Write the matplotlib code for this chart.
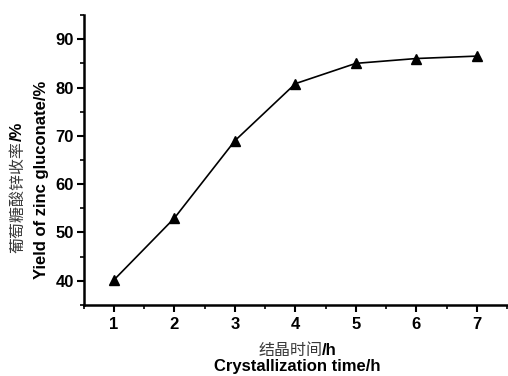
import matplotlib.pyplot as plt
from matplotlib.ticker import MultipleLocator

hours = [1, 2, 3, 4, 5, 6, 7]
yield_pct = [40.2, 53.0, 69.0, 80.8, 85.0, 86.0, 86.5]
xticks = [1, 2, 3, 4, 5, 6, 7]
yticks = [40, 50, 60, 70, 80, 90]

plt.rcParams['font.family'] = ['Liberation Sans', 'DejaVu Sans']
cjk = ['Noto Sans CJK SC', 'DejaVu Sans']

fig = plt.figure(figsize=(5.08, 3.76), dpi=100)
ax = fig.add_axes([0.165, 0.189, 0.833, 0.771])

ax.plot(hours, yield_pct, color='black', lw=1.2, marker='^', ms=7, mfc='black', mec='black')

ax.set_xlim(0.5, 7.5)
ax.set_ylim(35, 95)
ax.set_xticks(xticks)
ax.set_yticks(yticks)
ax.xaxis.set_minor_locator(MultipleLocator(0.5))
ax.yaxis.set_minor_locator(MultipleLocator(5))
ax.tick_params(which='major', direction='out', length=5, width=1.5, labelsize=12, pad=2)
ax.tick_params(axis='x', which='major', pad=4)
ax.tick_params(which='minor', direction='out', length=3, width=1.2)
for lab in ax.get_xticklabels() + ax.get_yticklabels():
    lab.set_fontweight('bold')

ax.spines['top'].set_visible(False)
ax.spines['right'].set_visible(False)
ax.spines['left'].set_linewidth(1.8)
ax.spines['bottom'].set_linewidth(1.8)

# y label: Chinese part in gray, unit bold, English line below
fig.text(0.035, 0.625, '葡萄糖酸锌收率', rotation=90, rotation_mode='anchor',
         ha='right', va='center', family=cjk, fontsize=11.5, color='#3a3a3a')
fig.text(0.035, 0.625, '/%', rotation=90, rotation_mode='anchor',
         ha='left', va='center', fontsize=12, fontweight='bold')
fig.text(0.081, 0.521, 'Yield of zinc gluconate/%', rotation=90, ha='center', va='center',
         fontsize=12, fontweight='bold')

# x label
fig.text(0.634, 0.069, '结晶时间', ha='right', va='center',
         family=cjk, fontsize=11.5, color='#3a3a3a')
fig.text(0.634, 0.069, '/h', ha='left', va='center', fontsize=12, fontweight='bold')
fig.text(0.585, 0.024, 'Crystallization time/h', ha='center', va='center',
         fontsize=12, fontweight='bold')

fig.savefig('out.png', dpi=100)
